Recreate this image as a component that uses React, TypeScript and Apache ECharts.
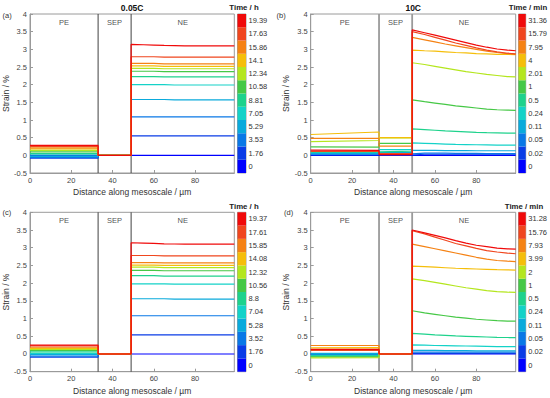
import React, { useEffect, useRef } from 'react';
import * as echarts from 'echarts';

// ---------- data ----------
const X_PE = [0, 33];
const X_SEP = [33, 49];
const X_NE = [49, 55, 60, 65, 70, 75, 80, 85, 90, 95, 99];
const X_MAX = 99;
const REGIONS = ['PE', 'SEP', 'NE'];

const COLORS = ['#0000ff', '#0a3ce6', '#0a78e6', '#0aaadc', '#14d2c8', '#1ed28c', '#46c846', '#b4e61e', '#f5be0a', '#f58214', '#f0461e', '#f00a0a'];

const TIMES_A = ['0', '1.76', '3.53', '5.29', '7.05', '8.81', '10.58', '12.34', '14.1', '15.86', '17.63', '19.39'];
const TIMES_B = ['0', '0.02', '0.05', '0.11', '0.24', '0.5', '1', '2.01', '4', '7.95', '15.79', '31.36'];
const TIMES_C = ['0', '1.76', '3.52', '5.28', '7.04', '8.8', '10.56', '12.32', '14.08', '15.85', '17.61', '19.37'];
const TIMES_D = ['0', '0.02', '0.05', '0.11', '0.24', '0.5', '1', '2', '3.99', '7.93', '15.76', '31.28'];

const PE_A = [[0, 0], [-0.08, -0.08], [-0.06, -0.06], [-0.03, -0.03], [0.01, 0.01], [0.05, 0.05], [0.1, 0.1], [0.14, 0.14], [0.18, 0.18], [0.21, 0.21], [0.25, 0.25], [0.28, 0.28]];
const SEP_A = [[0, 0], [0, 0], [0, 0], [0, 0], [0, 0], [0, 0], [0, 0], [0, 0], [0, 0], [0, 0], [0, 0], [0, 0]];
const NE_A = [
  [0, 0, 0, 0, 0, 0, 0, 0, 0, 0, 0],
  [0.55, 0.55, 0.55, 0.55, 0.55, 0.55, 0.55, 0.55, 0.55, 0.55, 0.55],
  [1.09, 1.09, 1.09, 1.09, 1.09, 1.09, 1.09, 1.09, 1.09, 1.09, 1.09],
  [1.58, 1.58, 1.58, 1.58, 1.57, 1.57, 1.57, 1.57, 1.57, 1.57, 1.57],
  [2.0, 2.0, 2.0, 2.0, 1.99, 1.99, 1.99, 1.99, 1.99, 1.99, 1.99],
  [2.23, 2.23, 2.23, 2.22, 2.22, 2.22, 2.22, 2.22, 2.22, 2.22, 2.22],
  [2.38, 2.38, 2.38, 2.37, 2.37, 2.37, 2.37, 2.37, 2.37, 2.37, 2.37],
  [2.46, 2.46, 2.46, 2.45, 2.45, 2.45, 2.45, 2.45, 2.45, 2.45, 2.45],
  [2.53, 2.53, 2.53, 2.52, 2.52, 2.52, 2.52, 2.52, 2.52, 2.52, 2.52],
  [2.6, 2.6, 2.6, 2.59, 2.59, 2.59, 2.59, 2.59, 2.59, 2.59, 2.59],
  [2.79, 2.79, 2.79, 2.78, 2.78, 2.78, 2.78, 2.78, 2.78, 2.78, 2.78],
  [3.14, 3.13, 3.12, 3.11, 3.105, 3.1, 3.1, 3.1, 3.1, 3.1, 3.1],
];

const PE_B = [[0, 0], [0.01, 0.01], [0.03, 0.03], [0.05, 0.05], [0.08, 0.08], [0.1, 0.1], [0.24, 0.23], [0.39, 0.42], [0.59, 0.66], [0.48, 0.48], [0.11, 0.11], [0.15, 0.14]];
const SEP_B = [[0, 0], [0.01, 0.01], [0.04, 0.04], [0.08, 0.08], [0.16, 0.16], [0.12, 0.12], [0.34, 0.34], [0.49, 0.49], [0.5, 0.5], [0.26, 0.26], [0.05, 0.05], [0.02, 0.02]];
const NE_B = [
  [0, 0, 0, 0, 0, 0, 0, 0, 0, 0, 0],
  [0.03, 0.03, 0.03, 0.03, 0.03, 0.03, 0.03, 0.03, 0.03, 0.03, 0.03],
  [0.06, 0.06, 0.06, 0.06, 0.055, 0.055, 0.055, 0.05, 0.05, 0.05, 0.05],
  [0.14, 0.14, 0.14, 0.135, 0.135, 0.135, 0.13, 0.13, 0.13, 0.13, 0.13],
  [0.35, 0.34, 0.33, 0.32, 0.31, 0.305, 0.3, 0.295, 0.29, 0.29, 0.29],
  [0.75, 0.73, 0.71, 0.69, 0.68, 0.665, 0.65, 0.64, 0.635, 0.63, 0.63],
  [1.57, 1.52, 1.48, 1.44, 1.4, 1.37, 1.34, 1.31, 1.29, 1.28, 1.27],
  [2.62, 2.57, 2.52, 2.47, 2.42, 2.37, 2.33, 2.29, 2.26, 2.23, 2.22],
  [2.98, 2.96, 2.95, 2.93, 2.91, 2.9, 2.88, 2.87, 2.86, 2.855, 2.85],
  [3.34, 3.27, 3.21, 3.15, 3.1, 3.05, 3.0, 2.95, 2.91, 2.88, 2.86],
  [3.5, 3.42, 3.34, 3.26, 3.18, 3.11, 3.04, 2.98, 2.93, 2.89, 2.87],
  [3.55, 3.47, 3.4, 3.33, 3.26, 3.19, 3.12, 3.06, 3.01, 2.98, 2.96],
];

const PE_C = [[0, 0], [-0.09, -0.09], [-0.06, -0.06], [-0.02, -0.02], [0.02, 0.02], [0.06, 0.06], [0.1, 0.1], [0.13, 0.13], [0.16, 0.16], [0.19, 0.19], [0.23, 0.23], [0.25, 0.25]];
const SEP_C = [[0, 0], [0, 0], [0, 0], [0, 0], [0, 0], [0, 0], [0, 0], [0, 0], [0, 0], [0, 0], [0, 0], [0, 0]];
const NE_C = [
  [0, 0, 0, 0, 0, 0, 0, 0, 0, 0, 0],
  [0.54, 0.54, 0.54, 0.54, 0.54, 0.54, 0.54, 0.54, 0.54, 0.54, 0.54],
  [1.08, 1.08, 1.08, 1.08, 1.08, 1.08, 1.08, 1.08, 1.08, 1.08, 1.08],
  [1.56, 1.56, 1.56, 1.56, 1.55, 1.55, 1.55, 1.55, 1.55, 1.55, 1.55],
  [1.98, 1.98, 1.98, 1.98, 1.97, 1.97, 1.97, 1.97, 1.97, 1.97, 1.97],
  [2.21, 2.21, 2.21, 2.2, 2.2, 2.2, 2.2, 2.2, 2.2, 2.2, 2.2],
  [2.36, 2.36, 2.36, 2.35, 2.35, 2.35, 2.35, 2.35, 2.35, 2.35, 2.35],
  [2.45, 2.45, 2.45, 2.44, 2.44, 2.44, 2.44, 2.44, 2.44, 2.44, 2.44],
  [2.51, 2.51, 2.51, 2.5, 2.5, 2.5, 2.5, 2.5, 2.5, 2.5, 2.5],
  [2.58, 2.58, 2.58, 2.57, 2.57, 2.57, 2.57, 2.57, 2.57, 2.57, 2.57],
  [2.78, 2.78, 2.78, 2.77, 2.77, 2.77, 2.77, 2.77, 2.77, 2.77, 2.77],
  [3.14, 3.13, 3.12, 3.11, 3.105, 3.1, 3.1, 3.1, 3.1, 3.1, 3.1],
];

const PE_D = [[0, 0], [0, 0], [-0.01, -0.01], [0.02, 0.02], [-0.04, -0.04], [-0.06, -0.06], [-0.08, -0.08], [-0.11, -0.1], [0.17, 0.18], [0.24, 0.24], [0.1, 0.1], [0.13, 0.13]];
const SEP_D = [[0, 0], [0, 0], [0, 0], [0, 0], [0, 0], [0, 0], [0, 0], [0, 0], [0, 0], [0, 0], [0, 0], [0, 0]];
const NE_D = [
  [0, 0, 0, 0, 0, 0, 0, 0, 0, 0, 0],
  [0.02, 0.02, 0.02, 0.02, 0.02, 0.02, 0.02, 0.02, 0.02, 0.02, 0.02],
  [0.05, 0.05, 0.05, 0.05, 0.05, 0.05, 0.05, 0.05, 0.05, 0.05, 0.05],
  [0.1, 0.1, 0.1, 0.095, 0.095, 0.095, 0.09, 0.09, 0.09, 0.09, 0.09],
  [0.26, 0.25, 0.24, 0.235, 0.23, 0.225, 0.22, 0.215, 0.21, 0.21, 0.21],
  [0.58, 0.56, 0.54, 0.525, 0.51, 0.5, 0.49, 0.48, 0.47, 0.465, 0.46],
  [1.22, 1.16, 1.12, 1.08, 1.04, 1.01, 0.98, 0.96, 0.94, 0.93, 0.93],
  [2.12, 2.07, 2.02, 1.97, 1.92, 1.87, 1.83, 1.79, 1.76, 1.745, 1.74],
  [2.48, 2.465, 2.45, 2.435, 2.42, 2.41, 2.4, 2.39, 2.38, 2.375, 2.37],
  [3.1, 3.03, 2.97, 2.91, 2.85, 2.79, 2.73, 2.68, 2.64, 2.62, 2.61],
  [3.48, 3.39, 3.3, 3.21, 3.12, 3.05, 2.98, 2.92, 2.88, 2.85, 2.83],
  [3.5, 3.42, 3.35, 3.28, 3.2, 3.13, 3.07, 3.03, 2.99, 2.97, 2.96],
];

const PANELS = [
  { tag: '(a)', title: '0.05C', unit: 'Time / h', times: TIMES_A, pe: PE_A, sep: SEP_A, ne: NE_A },
  { tag: '(b)', title: '10C', unit: 'Time / min', times: TIMES_B, pe: PE_B, sep: SEP_B, ne: NE_B },
  { tag: '(c)', title: '', unit: 'Time / h', times: TIMES_C, pe: PE_C, sep: SEP_C, ne: NE_C },
  { tag: '(d)', title: '', unit: 'Time / min', times: TIMES_D, pe: PE_D, sep: SEP_D, ne: NE_D },
];

// ---------- layout ----------
const FONT = "'Liberation Sans', Arial, Helvetica, sans-serif";
const MAIN_GRIDS = [
  { left: 30, top: 14, width: 204.3, height: 159 },
  { left: 310.7, top: 14, width: 205, height: 159 },
  { left: 30, top: 212.3, width: 204.3, height: 159.4 },
  { left: 310.7, top: 212.3, width: 205, height: 159.4 },
];
const BAR_GRIDS = [
  { left: 237.5, top: 14, width: 8.5, height: 159 },
  { left: 518.5, top: 14, width: 8, height: 159 },
  { left: 237.5, top: 212.3, width: 8.5, height: 159.4 },
  { left: 518.5, top: 212.3, width: 8, height: 159.4 },
];
const TAG_POS = [[2.5, 15], [276.5, 15], [2.5, 212], [284, 212]];
const UNIT_POS = [[244, 7], [528, 7], [244, 206], [524, 206]];

function buildOption() {
  const grids: any[] = [];
  const xAxes: any[] = [];
  const yAxes: any[] = [];
  const series: any[] = [];
  const graphics: any[] = [];
  const axisColor = '#9a9a9a';

  PANELS.forEach((p, k) => {
    grids.push({ ...MAIN_GRIDS[k], show: true, borderColor: axisColor, borderWidth: 1 });
    xAxes.push({
      gridIndex: k, type: 'value', min: 0, max: X_MAX, interval: 20,
      axisLine: { show: true, onZero: false, lineStyle: { color: axisColor } },
      axisTick: { show: true, inside: true, length: 3, lineStyle: { color: axisColor } },
      axisLabel: { fontSize: 7.5, color: '#444', margin: 3, fontFamily: FONT, showMaxLabel: false },
      splitLine: { show: false },
      name: 'Distance along mesoscale / µm', nameLocation: 'middle', nameGap: 14.5,
      nameTextStyle: { fontSize: 8.5, color: '#333', fontFamily: FONT },
    });
    yAxes.push({
      gridIndex: k, type: 'value', min: -0.5, max: 4, interval: 0.5,
      axisLine: { show: true, lineStyle: { color: axisColor } },
      axisTick: { show: true, inside: true, length: 3, lineStyle: { color: axisColor } },
      axisLabel: { fontSize: 7.5, color: '#444', margin: 3, fontFamily: FONT },
      splitLine: { show: false },
      name: 'Strain / %', nameLocation: 'middle', nameGap: 17,
      nameTextStyle: { fontSize: 8.5, color: '#333', fontFamily: FONT },
    });
  });

  PANELS.forEach((p, k) => {
    grids.push({ ...BAR_GRIDS[k], show: true, borderColor: '#8a8a8a', borderWidth: 0.8 });
    xAxes.push({ gridIndex: 4 + k, type: 'value', min: 0, max: 1, show: false });
    yAxes.push({
      gridIndex: 4 + k, type: 'category', data: p.times, position: 'right',
      axisLine: { show: false }, axisTick: { show: false },
      axisLabel: { fontSize: 7.5, color: '#333', margin: 2.5, fontFamily: FONT },
    });
  });

  PANELS.forEach((p, k) => {
    const boundaryColor = k % 2 === 0 ? '#404040' : '#9a9a9a';
    const boundaryWidth = k % 2 === 0 ? 1 : 1.8;
    [X_PE[1], X_SEP[1]].forEach((bx) => {
      series.push({
        type: 'line', xAxisIndex: k, yAxisIndex: k, silent: true, symbol: 'none',
        data: [[bx, -0.5], [bx, 4]], lineStyle: { color: boundaryColor, width: boundaryWidth }, z: 1,
      });
    });
    p.times.forEach((t, i) => {
      const data: number[][] = [];
      X_PE.forEach((x, j) => data.push([x, p.pe[i][j]]));
      X_SEP.forEach((x, j) => data.push([x, p.sep[i][j]]));
      X_NE.forEach((x, j) => data.push([x, p.ne[i][j]]));
      series.push({
        type: 'line', name: t, xAxisIndex: k, yAxisIndex: k, data, showSymbol: false, symbol: 'none',
        silent: true, lineStyle: { color: COLORS[i], width: 1.2 }, itemStyle: { color: COLORS[i] }, z: 2,
      });
    });
    const bounds = [X_PE[0], X_PE[1], X_SEP[1], X_MAX];
    series.push({
      type: 'scatter', xAxisIndex: k, yAxisIndex: k, symbolSize: 1, silent: true,
      itemStyle: { color: 'rgba(0,0,0,0)' },
      data: REGIONS.map((r, j) => [(bounds[j] + bounds[j + 1]) / 2, 3.77, r]),
      label: {
        show: true, position: 'inside', formatter: (q: any) => q.data[2],
        fontSize: 7.5, color: '#222', fontFamily: FONT,
      },
      z: 3,
    });
    series.push({
      type: 'bar', xAxisIndex: 4 + k, yAxisIndex: 4 + k, silent: true, barWidth: '100%', barCategoryGap: '0%',
      data: COLORS.map((c) => ({ value: 1, itemStyle: { color: c } })),
    });

    graphics.push({
      type: 'text', left: TAG_POS[k][0], top: TAG_POS[k][1] - 4,
      style: { text: p.tag, fill: '#333', font: `7.5px ${FONT}` },
    });
    graphics.push({
      type: 'text', x: UNIT_POS[k][0], y: UNIT_POS[k][1],
      style: {
        text: p.unit, fill: '#222', font: `bold 7.8px ${FONT}`,
        textAlign: 'center', textVerticalAlign: 'middle', align: 'center', verticalAlign: 'middle',
      },
    });
    if (p.title) {
      const g = MAIN_GRIDS[k];
      graphics.push({
        type: 'text', x: g.left + g.width / 2, y: 8,
        style: {
          text: p.title, fill: '#111', font: `bold 8.5px ${FONT}`,
          textAlign: 'center', textVerticalAlign: 'middle', align: 'center', verticalAlign: 'middle',
        },
      });
    }
  });

  return {
    animation: false,
    backgroundColor: '#ffffff',
    textStyle: { fontFamily: FONT },
    grid: grids,
    xAxis: xAxes,
    yAxis: yAxes,
    series,
    graphic: graphics,
  };
}

export default function App() {
  const ref = useRef<HTMLDivElement>(null);
  useEffect(() => {
    if (!ref.current) return;
    const chart = echarts.init(ref.current, null, { renderer: 'svg' });
    chart.setOption(buildOption() as any);
    return () => chart.dispose();
  }, []);
  return (
    <div
      ref={ref}
      style={{ position: 'fixed', left: 0, top: 0, width: 550, height: 398, background: '#fff' }}
    />
  );
}
